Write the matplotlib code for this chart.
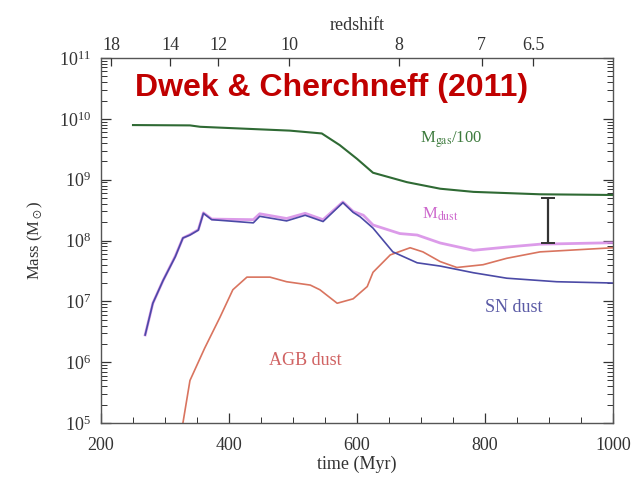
import matplotlib
matplotlib.use("Agg")
import matplotlib.pyplot as plt
from matplotlib.ticker import LogLocator, MultipleLocator, NullFormatter, FixedLocator

plt.rcParams['font.family'] = ['Liberation Serif', 'DejaVu Serif']
plt.rcParams['mathtext.fontset'] = 'stix'

# gas mass / 100
gas_t = [250, 339, 355, 495, 545, 573, 600, 625, 678, 730, 782, 886, 1000]
gas_m = [7.9e9, 7.8e9, 7.4e9, 6.4e9, 5.75e9, 3.7e9, 2.2e9, 1.3e9, 9.1e8, 7.1e8, 6.3e8, 5.75e8, 5.6e8]

# supernova dust
sn_t = [269, 281, 297, 316, 328, 339, 352, 360, 373, 438, 448, 490, 519, 547, 578, 594,
        605, 625, 656, 694, 730, 782, 834, 912, 1000]
sn_m = [2.8e6, 9.3e6, 2.2e7, 5.4e7, 1.1e8, 1.23e8, 1.48e8, 2.8e8, 2.2e8, 1.95e8, 2.5e8, 2.1e8,
        2.6e8, 2.05e8, 4.2e8, 2.9e8, 2.45e8, 1.6e8, 6.5e7, 4.3e7, 3.8e7, 2.95e7, 2.4e7, 2.1e7, 2.0e7]

# AGB dust
agb_t = [328, 339, 362, 386, 406, 428, 464, 490, 527, 542, 569, 594, 616, 625, 652, 683,
         703, 730, 756, 797, 834, 886, 1000]
agb_m = [1.0e5, 5.0e5, 1.7e6, 5.5e6, 1.55e7, 2.5e7, 2.5e7, 2.1e7, 1.85e7, 1.55e7, 9.3e6, 1.1e7,
         1.75e7, 3.0e7, 5.8e7, 7.6e7, 6.5e7, 4.5e7, 3.6e7, 4.0e7, 5.1e7, 6.5e7, 7.6e7]

# total dust
dust_t = [269, 281, 297, 316, 328, 339, 352, 360, 373, 438, 448, 490, 519, 547, 578, 594,
          610, 625, 667, 694, 730, 782, 834, 886, 1000]
dust_m = [2.8e6, 9.3e6, 2.2e7, 5.5e7, 1.1e8, 1.25e8, 1.5e8, 2.85e8, 2.25e8, 2.2e8, 2.75e8, 2.3e8,
          2.8e8, 2.2e8, 4.3e8, 3.0e8, 2.6e8, 1.8e8, 1.3e8, 1.23e8, 9.1e7, 6.9e7, 7.8e7, 8.7e7, 9.2e7]

# range bar
bar_t = 898
bar_lo = 9.1e7
bar_hi = 5.0e8

# redshift ticks on the top axis
z_labels = ['18', '14', '12', '10', '8', '7', '6.5']
z_times = [216, 308, 383, 494, 665, 795, 875]

fig = plt.figure(figsize=(6.4, 4.79), dpi=100)
ax = fig.add_axes([101 / 640, 56 / 479, 512 / 640, 365 / 479])

ax.plot(gas_t, gas_m, color='#2f6a34', lw=1.5)
ax.plot(dust_t, dust_m, color='#d68ae6', lw=2.0, alpha=0.85)
ax.plot(agb_t, agb_m, color='#d9745f', lw=1.2)
ax.plot(sn_t, sn_m, color='#4b4aa6', lw=1.2)
ax.errorbar([bar_t], [bar_hi], yerr=[[bar_hi - bar_lo], [0]], fmt='none',
            ecolor='#333333', elinewidth=1.6, capsize=5, capthick=1.4)

ax.set_yscale('log')
ax.set_xlim(200, 1000)
ax.set_ylim(1e5, 1e11)

ax.xaxis.set_major_locator(MultipleLocator(200))
ax.xaxis.set_minor_locator(MultipleLocator(50))
ax.yaxis.set_major_locator(LogLocator(base=10, numticks=10))
ax.yaxis.set_minor_locator(LogLocator(base=10, subs=range(2, 10), numticks=20))
ax.yaxis.set_minor_formatter(NullFormatter())

ax.tick_params(which='both', direction='in', right=True, labelsize=13, colors='#333333')
ax.tick_params(axis='x', top=False, pad=10)
ax.tick_params(axis='y', pad=7)
ax.tick_params(which='major', length=7, width=0.9)
ax.tick_params(which='minor', length=4, width=0.7)
for s in ax.spines.values():
    s.set_color('#555555')
    s.set_linewidth(1.0)

ax.set_xlabel('time (Myr)', fontsize=13, color='#333333', labelpad=1)
ax.set_ylabel(r'Mass (M$_\odot$)', fontsize=12, color='#333333', labelpad=10)

top = ax.twiny()
top.set_xlim(ax.get_xlim())
top.xaxis.set_major_locator(FixedLocator(z_times))
top.set_xticklabels(z_labels)
top.tick_params(direction='in', length=6, width=0.9, labelsize=13, colors='#333333', pad=3)
top.set_xlabel('redshift', fontsize=13, color='#333333', labelpad=5)
for s in top.spines.values():
    s.set_visible(False)

ax.text(698, 4.0e9, r'M$_{\mathrm{gas}}$/100', fontsize=12, color='#3c7a3c')
ax.text(701, 2.3e8, r'M$_{\mathrm{dust}}$', fontsize=12, color='#cc66cc')
ax.text(800, 6.6e6, 'SN dust', fontsize=13, color='#5a5aa5')
ax.text(462, 9.0e5, 'AGB dust', fontsize=13, color='#d06262')

fig.text(135 / 640, 1 - 88 / 479, 'Dwek & Cherchneff (2011)', fontsize=23,
         fontweight='bold', color='#c00000', family=['Liberation Sans', 'DejaVu Sans'],
         va='center', ha='left')

fig.savefig('out.png', dpi=100)
